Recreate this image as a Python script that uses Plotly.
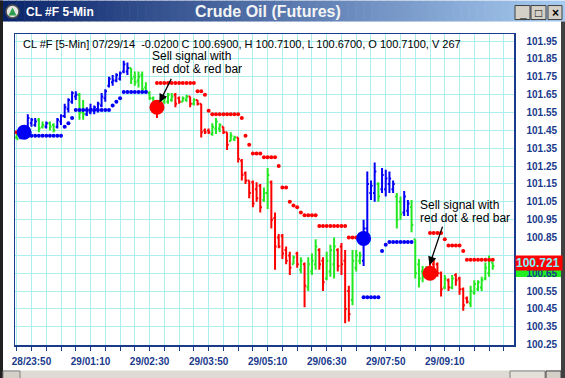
import plotly.graph_objects as go

# ---------------- data ----------------
tick_labels = ["28/23:50", "29/01:10", "29/02:30", "29/03:50",
               "29/05:10", "29/06:30", "29/07:50", "29/09:10"]
tick_label_bars = [0, 16, 32, 48, 64, 80, 96, 112]
y_ticks = [100.25, 100.35, 100.45, 100.55, 100.65, 100.75, 100.85, 100.95,
           101.05, 101.15, 101.25, 101.35, 101.45, 101.55, 101.65, 101.75,
           101.85, 101.95]
y_tick_hidden = [100.75]   # covered by the red price tag in the reference

bar_start = -4
opens = [101.41, 101.41, 101.44, 101.46, 101.49, 101.48, 101.51, 101.47, 101.47, 101.49,
         101.48, 101.47, 101.50, 101.53, 101.57, 101.61, 101.64, 101.65, 101.55, 101.54,
         101.55, 101.56, 101.57, 101.59, 101.63, 101.70, 101.72, 101.73, 101.74, 101.78,
         101.78, 101.80, 101.75, 101.73, 101.76, 101.69, 101.66, 101.63, 101.61, 101.58,
         101.61, 101.61, 101.62, 101.65, 101.63, 101.61, 101.62, 101.64, 101.60, 101.62,
         101.60, 101.45, 101.45, 101.43, 101.46, 101.46, 101.47, 101.44, 101.39, 101.40,
         101.41, 101.28, 101.21, 101.17, 101.16, 101.12, 101.14, 101.06, 101.10, 101.16,
         100.96, 100.85, 100.86, 100.78, 100.75, 100.70, 100.76, 100.67, 100.70, 100.57,
         100.66, 100.70, 100.78, 100.72, 100.62, 100.66, 100.70, 100.78, 100.80, 100.72,
         100.55, 100.50, 100.68, 100.72, 100.72, 100.90, 101.10, 101.10, 101.15, 101.12,
         101.12, 101.15, 101.12, 101.08, 101.05, 100.99, 101.00, 101.02, 100.84, 100.70,
         100.66, 100.66, 100.68, 100.70, 100.70, 100.65, 100.57, 100.61, 100.57, 100.64,
         100.62, 100.56, 100.51, 100.48, 100.54, 100.56, 100.57, 100.62, 100.65, 100.71]
highs = [101.44, 101.46, 101.48, 101.54, 101.52, 101.52, 101.52, 101.50, 101.50, 101.50,
         101.49, 101.52, 101.54, 101.60, 101.63, 101.67, 101.67, 101.66, 101.62, 101.58,
         101.60, 101.59, 101.61, 101.66, 101.68, 101.75, 101.76, 101.77, 101.78, 101.84,
         101.83, 101.80, 101.78, 101.78, 101.78, 101.72, 101.67, 101.64, 101.61, 101.63,
         101.64, 101.66, 101.66, 101.66, 101.64, 101.64, 101.65, 101.64, 101.63, 101.62,
         101.60, 101.46, 101.46, 101.49, 101.52, 101.49, 101.47, 101.44, 101.44, 101.42,
         101.41, 101.29, 101.22, 101.17, 101.17, 101.16, 101.15, 101.13, 101.24, 101.17,
         100.99, 100.87, 100.87, 100.80, 100.77, 100.75, 100.77, 100.74, 100.71, 100.74,
         100.76, 100.84, 100.79, 100.74, 100.77, 100.81, 100.85, 100.79, 100.82, 100.78,
         100.58, 100.78, 100.78, 100.77, 100.95, 101.22, 101.17, 101.27, 101.16, 101.24,
         101.23, 101.22, 101.17, 101.10, 101.08, 101.11, 101.06, 101.06, 100.84, 100.73,
         100.69, 100.69, 100.73, 100.73, 100.71, 100.66, 100.64, 100.62, 100.64, 100.65,
         100.63, 100.57, 100.52, 100.58, 100.61, 100.61, 100.63, 100.71, 100.75, 100.71]
lows = [101.40, 101.40, 101.42, 101.44, 101.47, 101.47, 101.44, 101.46, 101.46, 101.45,
        101.44, 101.46, 101.48, 101.52, 101.55, 101.60, 101.62, 101.51, 101.51, 101.53,
        101.54, 101.54, 101.55, 101.58, 101.61, 101.69, 101.70, 101.72, 101.73, 101.77,
        101.76, 101.71, 101.70, 101.69, 101.67, 101.66, 101.62, 101.60, 101.52, 101.58,
        101.60, 101.60, 101.61, 101.58, 101.60, 101.61, 101.61, 101.58, 101.59, 101.59,
        101.41, 101.43, 101.43, 101.42, 101.43, 101.44, 101.43, 101.34, 101.39, 101.39,
        101.27, 101.17, 101.15, 101.07, 101.02, 101.05, 100.99, 101.05, 101.01, 100.90,
        100.67, 100.79, 100.73, 100.70, 100.64, 100.70, 100.68, 100.65, 100.46, 100.55,
        100.64, 100.67, 100.67, 100.55, 100.61, 100.63, 100.62, 100.66, 100.64, 100.37,
        100.38, 100.47, 100.66, 100.70, 100.69, 100.84, 101.06, 101.05, 101.05, 101.10,
        101.08, 101.10, 101.10, 100.90, 100.95, 100.97, 100.97, 100.88, 100.62, 100.57,
        100.60, 100.62, 100.62, 100.62, 100.63, 100.52, 100.56, 100.55, 100.56, 100.58,
        100.53, 100.44, 100.48, 100.46, 100.53, 100.55, 100.55, 100.61, 100.63, 100.67]
closes = [101.40, 101.45, 101.46, 101.52, 101.51, 101.50, 101.46, 101.48, 101.49, 101.47,
          101.45, 101.51, 101.53, 101.58, 101.62, 101.66, 101.65, 101.55, 101.54, 101.56,
          101.57, 101.58, 101.60, 101.64, 101.67, 101.74, 101.73, 101.76, 101.77, 101.82,
          101.80, 101.74, 101.72, 101.75, 101.68, 101.67, 101.63, 101.61, 101.56, 101.62,
          101.63, 101.65, 101.64, 101.60, 101.61, 101.63, 101.64, 101.60, 101.62, 101.60,
          101.44, 101.44, 101.44, 101.47, 101.50, 101.48, 101.44, 101.37, 101.42, 101.41,
          101.29, 101.20, 101.17, 101.10, 101.04, 101.07, 101.02, 101.10, 101.20, 100.95,
          100.80, 100.80, 100.76, 100.72, 100.68, 100.74, 100.70, 100.72, 100.58, 100.70,
          100.72, 100.80, 100.70, 100.60, 100.72, 100.78, 100.80, 100.69, 100.70, 100.45,
          100.42, 100.72, 100.75, 100.75, 100.90, 101.15, 101.14, 101.22, 101.08, 101.20,
          101.18, 101.18, 101.15, 100.95, 100.98, 101.08, 101.04, 100.92, 100.65, 100.62,
          100.63, 100.64, 100.64, 100.66, 100.65, 100.56, 100.62, 100.57, 100.62, 100.61,
          100.56, 100.47, 100.49, 100.55, 100.59, 100.60, 100.61, 100.68, 100.72, 100.69]
bar_colors = ("GBBBBBGGBG" "GBBBBBBGGB" "BBBBBBBBBB" "BGGGGGGGRG" "GGGRRGGRGR"
              "RRRGGGRRGG" "RRRRRRRGGR" "RRRRRGRGRG" "GGRRGGGRRR" "RGGGBBBBGB"
              "BBBGGBBGGG" "GGRRRRGRGR" "RRRGGGGGGG")

sar_blue_x = [-3, -2, -1, 0, 1, 2, 3, 4, 5, 6, 7, 8, 9, 10, 11,
              12, 13, 14, 15, 16, 17, 18, 19, 20, 21, 22, 23, 24,
              25, 26, 27, 28, 29, 30, 31,
              90, 91, 92, 93, 94, 95, 96, 97, 98, 99, 100, 101, 102, 103]
sar_blue_y = [101.42, 101.42, 101.42, 101.42, 101.42, 101.42, 101.42, 101.42, 101.42,
              101.42, 101.42, 101.42, 101.47, 101.49, 101.52,
              101.565, 101.565, 101.565, 101.565, 101.565, 101.565, 101.565, 101.565,
              101.565, 101.565, 101.59, 101.61, 101.63,
              101.665, 101.665, 101.665, 101.665, 101.665, 101.665, 101.665,
              100.515, 100.515, 100.515, 100.515, 100.515, 100.775, 100.81, 100.825,
              100.825, 100.825, 100.825, 100.825, 100.825, 100.825]
sar_red_x = [-4, 34, 35, 36, 37, 38, 39, 40, 41, 42, 43, 44, 45, 46, 47, 48,
             49, 50, 51, 52, 53, 54, 55, 56, 57, 58, 59, 60, 61, 62, 63, 64, 65, 66,
             67, 68, 69, 70, 71, 72, 73, 74, 75, 76, 77,
             78, 79, 80, 81, 82, 83, 84, 85, 86, 87, 88, 89,
             108, 109, 110, 111, 112, 113, 114, 115, 116, 117,
             118, 119, 120, 121, 122, 123, 124, 125]
sar_red_y = [101.44, 101.715, 101.715, 101.715, 101.715, 101.715, 101.715, 101.715,
             101.715, 101.715, 101.715, 101.715, 101.67, 101.67, 101.65, 101.56,
             101.54, 101.54, 101.54, 101.54, 101.54, 101.54, 101.54, 101.54, 101.52,
             101.42, 101.37, 101.32, 101.32, 101.32, 101.30, 101.30, 101.30, 101.30,
             101.25, 101.13, 101.13, 101.05, 101.03, 101.02, 100.99, 100.975, 100.975,
             100.975, 100.975,
             100.915, 100.915, 100.915, 100.915, 100.915, 100.915, 100.915, 100.915,
             100.85, 100.85, 100.85, 100.85,
             100.875, 100.875, 100.875, 100.875, 100.84, 100.805, 100.805, 100.805,
             100.805, 100.775,
             100.725, 100.725, 100.725, 100.725, 100.725, 100.725, 100.725, 100.725]

signal_x = [-2, 34, 90, 108]
signal_y = [101.44, 101.58, 100.845, 100.65]
signal_kind = ["B", "R", "B", "R"]

header_text = ("CL #F [5-Min] 07/29/14\u00a0 -0.0200 C 100.6900, H 100.7100, "
               "L 100.6700, O 100.7100, V 267")
window_left_title = "CL #F 5-Min"
window_title = "Crude Oil (Futures)"
note_lines = ["Sell signal with", "red dot & red bar"]
sar_tag = "100.721"

# ---------------- styles ----------------
W, H = 565, 378
PL, PR, PT, PB = 15, 514, 33.5, 345
COL = {"B": "#0000f5", "G": "#22e822", "R": "#ff0000"}
NAVY = "#1a3a8c"
GRID = "#aeeeee"
FONT = "Arial, 'Liberation Sans', sans-serif"


def pxx(x):
    return (x - PL) / (PR - PL)


def pxy(y):
    return (PB - y) / (PB - PT)


bar_x = [bar_start + k for k in range(len(opens))]

fig = go.Figure()
for key in ["G", "B", "R"]:
    idx = [k for k, c in enumerate(bar_colors) if c == key]
    fig.add_trace(go.Ohlc(
        x=[bar_x[k] for k in idx],
        open=[opens[k] for k in idx], high=[highs[k] for k in idx],
        low=[lows[k] for k in idx], close=[closes[k] for k in idx],
        increasing=dict(line=dict(color=COL[key], width=2)),
        decreasing=dict(line=dict(color=COL[key], width=2)),
        tickwidth=0.45, hoverinfo="skip", showlegend=False))

fig.add_trace(go.Scatter(x=sar_blue_x, y=sar_blue_y, mode="markers",
                         marker=dict(color=COL["B"], size=4, line=dict(width=0)),
                         hoverinfo="skip", showlegend=False))
fig.add_trace(go.Scatter(x=sar_red_x, y=sar_red_y, mode="markers",
                         marker=dict(color=COL["R"], size=4, line=dict(width=0)),
                         hoverinfo="skip", showlegend=False))
fig.add_trace(go.Scatter(x=signal_x, y=signal_y, mode="markers",
                         marker=dict(color=[COL[k] for k in signal_kind], size=15,
                                     line=dict(width=0)),
                         hoverinfo="skip", showlegend=False))

# x ticks every 4 bars, labels every 16
tickvals = list(range(-4, 131, 4))
ticktext = [tick_labels[tick_label_bars.index(v)] if v in tick_label_bars else ""
            for v in tickvals]
y_ticktext = ["" if v in y_tick_hidden else "%.2f" % v for v in y_ticks]

shapes = []
# title bar gradient
N = 70
c0, c1 = (10, 36, 106), (166, 202, 240)
for k in range(N):
    t = k / (N - 1)
    col = "rgb(%d,%d,%d)" % tuple(round(a + (b - a) * t) for a, b in zip(c0, c1))
    shapes.append(dict(type="rect", xref="paper", yref="paper",
                       x0=pxx(W * k / N), x1=pxx(W * (k + 1) / N + 0.6),
                       y0=pxy(21), y1=pxy(0), fillcolor=col, line=dict(width=0),
                       layer="above"))
# window borders
shapes.append(dict(type="rect", xref="paper", yref="paper", x0=pxx(0), x1=pxx(3),
                   y0=pxy(H), y1=pxy(0), fillcolor="#202020", line=dict(width=0)))
shapes.append(dict(type="rect", xref="paper", yref="paper", x0=pxx(561), x1=pxx(W),
                   y0=pxy(H), y1=pxy(21), fillcolor="#404040", line=dict(width=0)))
# bottom scroll bar
shapes.append(dict(type="rect", xref="paper", yref="paper", x0=pxx(3), x1=pxx(561),
                   y0=pxy(H), y1=pxy(370.5), fillcolor="#dedbd4",
                   line=dict(width=0)))
shapes.append(dict(type="rect", xref="paper", yref="paper", x0=pxx(3), x1=pxx(20),
                   y0=pxy(H + 2), y1=pxy(371), fillcolor="#d4d0c8",
                   line=dict(width=1, color="#808080")))
shapes.append(dict(type="rect", xref="paper", yref="paper", x0=pxx(510), x1=pxx(545),
                   y0=pxy(H + 2), y1=pxy(371), fillcolor="#e4e1db",
                   line=dict(width=1, color="#808080")))
shapes.append(dict(type="rect", xref="paper", yref="paper", x0=pxx(546), x1=pxx(561),
                   y0=pxy(H + 2), y1=pxy(371), fillcolor="#d4d0c8",
                   line=dict(width=1, color="#404040")))
# window buttons
for bx0, bx1 in [(515, 530), (531, 546), (548, 562)]:
    shapes.append(dict(type="rect", xref="paper", yref="paper", x0=pxx(bx0),
                       x1=pxx(bx1), y0=pxy(19), y1=pxy(5), fillcolor="#d4d0c8",
                       line=dict(width=1, color="#404040"), layer="above"))
# icon
shapes.append(dict(type="circle", xref="paper", yref="paper", x0=pxx(6), x1=pxx(19),
                   y0=pxy(17.5), y1=pxy(4.5), fillcolor="#e6e6e6",
                   line=dict(width=1.5, color="#505050"), layer="above"))
shapes.append(dict(type="path", xref="paper", yref="paper", layer="above",
                   path="M %f,%f L %f,%f L %f,%f Z" % (pxx(12.5), pxy(7), pxx(8.5),
                                                      pxy(15), pxx(16.5), pxy(15)),
                   fillcolor="#2e9e4e", line=dict(width=0)))
# green close-price tag behind the labels
shapes.append(dict(type="rect", xref="paper", yref="paper", x0=pxx(515), x1=pxx(561),
                   y0=pxy(277), y1=pxy(263), fillcolor="#22ee22",
                   line=dict(width=0), layer="below"))

annotations = []
annotations.append(dict(xref="paper", yref="paper", x=pxx(21), y=pxy(43.5),
                        xanchor="left", yanchor="middle", showarrow=False,
                        text=header_text, font=dict(family=FONT, size=11,
                                                    color="black")))
annotations.append(dict(xref="paper", yref="paper", x=pxx(24), y=pxy(11),
                        xanchor="left", yanchor="middle", showarrow=False,
                        text=window_left_title,
                        font=dict(family=FONT, size=12, color="white",
                                  weight="bold")))
annotations.append(dict(xref="paper", yref="paper", x=pxx(268), y=pxy(11),
                        xanchor="center", yanchor="middle", showarrow=False,
                        text=window_title,
                        font=dict(family=FONT, size=16, color="#f4f4f4",
                                  weight="bold")))
for sym, cx in [("_", 522.5), ("□", 538.5), ("×", 555)]:
    annotations.append(dict(xref="paper", yref="paper", x=pxx(cx), y=pxy(12),
                            xanchor="center", yanchor="middle", showarrow=False,
                            text=sym, font=dict(family=FONT, size=12,
                                                color="black", weight="bold")))
for lx, ly in [(150, 56), (418, 205)]:
    for j, line in enumerate(note_lines):
        annotations.append(dict(xref="paper", yref="paper", x=pxx(lx),
                                y=pxy(ly + 13 * j), xanchor="left",
                                yanchor="middle", showarrow=False, text=line,
                                font=dict(family=FONT, size=12, color="black")))
for tipx, tipy, tailx, taily in [(159.5, 102, 172, 77), (429.5, 265, 443, 225)]:
    annotations.append(dict(xref="paper", yref="paper", x=pxx(tipx), y=pxy(tipy),
                            ax=tailx - tipx, ay=taily - tipy, text="",
                            showarrow=True, arrowhead=2, arrowsize=1.3,
                            arrowwidth=1.3, arrowcolor="black", standoff=0))
annotations.append(dict(xref="paper", yref="paper", x=pxx(515), y=pxy(262.5),
                        xanchor="left", yanchor="middle", showarrow=False,
                        text=sar_tag, width=46, height=14, align="left",
                        bgcolor="#ff0000", borderpad=0,
                        font=dict(family=FONT, size=12, color="#7ff7ff",
                                  weight="bold")))

fig.update_layout(
    width=W, height=H,
    margin=dict(l=PL, r=W - PR, t=PT, b=H - PB, pad=0, autoexpand=False),
    paper_bgcolor="white", plot_bgcolor="white",
    showlegend=False, shapes=shapes, annotations=annotations,
    xaxis=dict(range=[-4.47, 130.76], tickmode="array", tickvals=tickvals,
               ticktext=ticktext, ticks="outside", ticklen=4, tickwidth=1,
               tickcolor=NAVY, showgrid=True, gridcolor=GRID, gridwidth=1,
               showline=True, mirror=True, linecolor=NAVY, linewidth=1.5,
               zeroline=False, rangeslider=dict(visible=False), fixedrange=True,
               automargin=False,
               tickfont=dict(family=FONT, size=10, color=NAVY, weight="bold"),
               ticklabelstandoff=2),
    yaxis=dict(range=[100.248, 101.99], side="right", tickmode="array",
               tickvals=y_ticks, ticktext=y_ticktext,
               ticks="", showgrid=True, gridcolor=GRID, gridwidth=1,
               showline=True, mirror=True, linecolor=NAVY, linewidth=1.5,
               zeroline=False, fixedrange=True, automargin=False,
               tickfont=dict(family=FONT, size=10, color=NAVY, weight="bold"),
               ticklabelstandoff=9),
)

fig.write_html("out.html", config=dict(displayModeBar=False, staticPlot=True),
               post_script="document.body.style.margin='0px';")
